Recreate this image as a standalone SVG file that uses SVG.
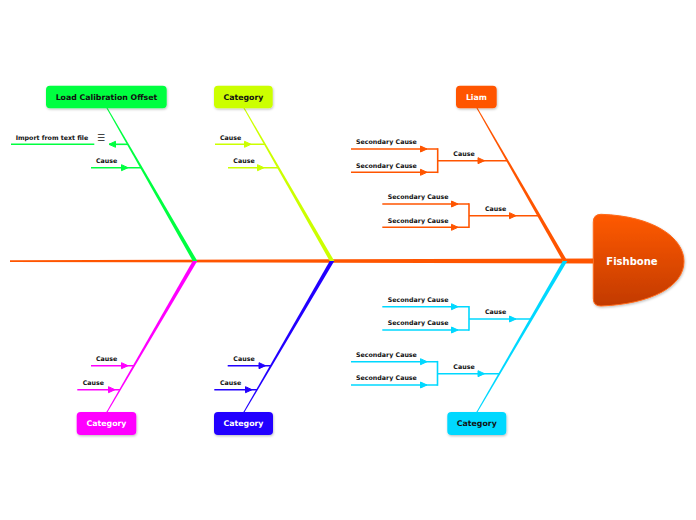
<svg xmlns="http://www.w3.org/2000/svg" xmlns:xlink="http://www.w3.org/1999/xlink" width="696" height="520" viewBox="0 0 696 520">
<style>
  .lbl { font-family: "DejaVu Sans", Verdana, sans-serif; font-weight: bold; font-size: 6.3px; fill: #111; }
  .box { font-family: "DejaVu Sans", Verdana, sans-serif; font-weight: bold; font-size: 7.8px; text-anchor: middle; }
  .dk { fill: #111; }
  .wt { fill: #fff; }
  .ln { fill: none; stroke-width: 1.6; }
  .g { stroke: #00FF40; fill: #00FF40; }
  .y { stroke: #CCFF00; fill: #CCFF00; }
  .o { stroke: #FF5500; fill: #FF5500; }
  .m { stroke: #FF00FF; fill: #FF00FF; }
  .b { stroke: #2200FF; fill: #2200FF; }
  .c { stroke: #00D8FF; fill: #00D8FF; }
  .bone { stroke: none; }
</style>
<defs>
  <path id="ar" d="M-6.5,-3 L0,0 L-6.5,3 Z"/>
  <path id="al" d="M6.5,-3 L0,0 L6.5,3 Z"/>
  <linearGradient id="hg" x1="0" y1="0" x2="0" y2="1">
    <stop offset="0" stop-color="#FF5A05"/>
    <stop offset="1" stop-color="#C23A00"/>
  </linearGradient>
  <filter id="sh" x="-20%" y="-20%" width="140%" height="150%">
    <feDropShadow dx="0.6" dy="1.2" stdDeviation="0.9" flood-color="#000" flood-opacity="0.25"/>
  </filter>
</defs>

<g id="connectors">
  <!-- spine -->
  <polygon points="10,260.3 10,261.9 593,263.6 593,258.6" fill="#FF5500"/>
  <rect x="562" y="259.3" width="4" height="1.6" fill="#D4E000"/>

  <!-- bones -->
  <polygon class="g bone" points="106.4,108 107.6,108 197.3,261 192.7,261"/>
  <polygon class="y bone" points="243.4,108 244.6,108 334.3,261 329.7,261"/>
  <polygon class="o bone" points="476.4,108 477.6,108 567.3,261 562.7,261"/>
  <polygon class="m bone" points="106.4,412 107.6,412 197.3,261 192.7,261"/>
  <polygon class="b bone" points="243.4,412 244.6,412 334.3,261 329.7,261"/>
  <polygon class="c bone" points="476.4,412 477.6,412 567.3,261 562.7,261"/>

  <!-- green causes -->
  <g class="g">
    <line class="ln g" x1="11" y1="144.3" x2="94.3" y2="144.3"/>
    <line class="ln g" x1="109" y1="144.3" x2="128" y2="144.3"/>
    <use xlink:href="#al" x="109" y="144.3"/>
    <line class="ln g" x1="91" y1="167.7" x2="141.3" y2="167.7"/>
    <use xlink:href="#ar" x="128" y="167.7"/>
  </g>
  <!-- yellow causes -->
  <g class="y">
    <line class="ln y" x1="215" y1="144.3" x2="264.9" y2="144.3"/>
    <use xlink:href="#ar" x="251" y="144.3"/>
    <line class="ln y" x1="228" y1="167.7" x2="278.2" y2="167.7"/>
    <use xlink:href="#ar" x="264" y="167.7"/>
  </g>
  <!-- orange causes -->
  <g class="o">
    <line class="ln o" x1="351" y1="149" x2="437.7" y2="149"/>
    <line class="ln o" x1="351" y1="172.3" x2="437.7" y2="172.3"/>
    <line class="ln o" x1="437.7" y1="148.2" x2="437.7" y2="173.1"/>
    <line class="ln o" x1="437.7" y1="160.7" x2="507.3" y2="160.7"/>
    <use xlink:href="#ar" x="427" y="149"/>
    <use xlink:href="#ar" x="427" y="172.3"/>
    <use xlink:href="#ar" x="484.5" y="160.7"/>
    <line class="ln o" x1="382.3" y1="204" x2="469" y2="204"/>
    <line class="ln o" x1="382.3" y1="227.3" x2="469" y2="227.3"/>
    <line class="ln o" x1="469" y1="203.2" x2="469" y2="228.1"/>
    <line class="ln o" x1="469" y1="215.7" x2="538.5" y2="215.7"/>
    <use xlink:href="#ar" x="458" y="204"/>
    <use xlink:href="#ar" x="458" y="227.3"/>
    <use xlink:href="#ar" x="516" y="215.7"/>
  </g>
  <!-- cyan causes -->
  <g class="c">
    <line class="ln c" x1="382.3" y1="306.7" x2="469" y2="306.7"/>
    <line class="ln c" x1="382.3" y1="330" x2="469" y2="330"/>
    <line class="ln c" x1="469" y1="305.9" x2="469" y2="330.8"/>
    <line class="ln c" x1="469" y1="319" x2="531.2" y2="319"/>
    <use xlink:href="#ar" x="458" y="306.7"/>
    <use xlink:href="#ar" x="458" y="330"/>
    <use xlink:href="#ar" x="516" y="319"/>
    <line class="ln c" x1="351" y1="361.7" x2="437.5" y2="361.7"/>
    <line class="ln c" x1="351" y1="385" x2="437.5" y2="385"/>
    <line class="ln c" x1="437.5" y1="360.9" x2="437.5" y2="385.8"/>
    <line class="ln c" x1="437.5" y1="373.7" x2="499.3" y2="373.7"/>
    <use xlink:href="#ar" x="427" y="361.7"/>
    <use xlink:href="#ar" x="427" y="385"/>
    <use xlink:href="#ar" x="484.5" y="373.7"/>
  </g>
  <!-- magenta causes -->
  <g class="m">
    <line class="ln m" x1="91" y1="365.7" x2="134" y2="365.7"/>
    <use xlink:href="#ar" x="128" y="365.7"/>
    <line class="ln m" x1="77.3" y1="389.7" x2="120" y2="389.7"/>
    <use xlink:href="#ar" x="115" y="389.7"/>
  </g>
  <!-- blue causes -->
  <g class="b">
    <line class="ln b" x1="227.7" y1="365.7" x2="271" y2="365.7"/>
    <use xlink:href="#ar" x="265.5" y="365.7"/>
    <line class="ln b" x1="214.3" y1="389.7" x2="257" y2="389.7"/>
    <use xlink:href="#ar" x="252" y="389.7"/>
  </g>
</g>

<!-- cause labels -->
<g id="labels">
  <text class="lbl" x="15.7" y="140">Import from text file</text>
  <text x="97" y="141" font-family="DejaVu Sans, sans-serif" font-size="9" fill="#111">☰</text>
  <text class="lbl" x="96" y="163.2">Cause</text>
  <text class="lbl" x="220" y="140">Cause</text>
  <text class="lbl" x="233.3" y="163.2">Cause</text>
  <text class="lbl" x="356" y="144.4">Secondary Cause</text>
  <text class="lbl" x="356" y="167.7">Secondary Cause</text>
  <text class="lbl" x="453.3" y="156.1">Cause</text>
  <text class="lbl" x="387.7" y="199.4">Secondary Cause</text>
  <text class="lbl" x="387.7" y="222.7">Secondary Cause</text>
  <text class="lbl" x="485" y="211.1">Cause</text>
  <text class="lbl" x="387.7" y="302.1">Secondary Cause</text>
  <text class="lbl" x="387.7" y="325.4">Secondary Cause</text>
  <text class="lbl" x="485" y="314.4">Cause</text>
  <text class="lbl" x="356" y="357.1">Secondary Cause</text>
  <text class="lbl" x="356" y="380.4">Secondary Cause</text>
  <text class="lbl" x="453.3" y="369.1">Cause</text>
  <text class="lbl" x="96" y="361.1">Cause</text>
  <text class="lbl" x="82.7" y="385.1">Cause</text>
  <text class="lbl" x="233.3" y="361.1">Cause</text>
  <text class="lbl" x="220" y="385.1">Cause</text>
</g>

<g id="node-load">
  <rect x="46" y="85.7" width="120.7" height="22.6" rx="4" fill="#00FF40" filter="url(#sh)"/>
  <text class="box dk" x="106.4" y="99.8">Load Calibration Offset</text>
</g>
<g id="node-cat-top">
  <rect x="214" y="85.7" width="58.7" height="22.6" rx="4" fill="#CCFF00" filter="url(#sh)"/>
  <text class="box dk" x="243.4" y="99.8">Category</text>
</g>
<g id="node-liam">
  <rect x="456" y="85.7" width="40.7" height="22.6" rx="4" fill="#FF5500" filter="url(#sh)"/>
  <text class="box wt" x="476.4" y="99.8">Liam</text>
</g>
<g id="node-cat-magenta">
  <rect x="76.7" y="412" width="59.6" height="23" rx="4" fill="#FF00FF" filter="url(#sh)"/>
  <text class="box wt" x="106.5" y="426.3">Category</text>
</g>
<g id="node-cat-blue">
  <rect x="214" y="412" width="59" height="23" rx="4" fill="#2200FF" filter="url(#sh)"/>
  <text class="box wt" x="243.5" y="426.3">Category</text>
</g>
<g id="node-cat-cyan">
  <rect x="447.3" y="412" width="59" height="23" rx="4" fill="#00D8FF" filter="url(#sh)"/>
  <text class="box dk" x="476.8" y="426.3">Category</text>
</g>
<g id="node-fishbone">
  <path d="M601,214.3 Q593.3,214.3 593.3,222 L593.3,298.5 Q593.3,306.2 601,306 C652,304 684,286 684,261.5 C684,238 654,216 601,214.3 Z" fill="url(#hg)" stroke="#FF6A1A" stroke-width="1" filter="url(#sh)"/>
  <text x="632" y="264.8" font-family="DejaVu Sans, Verdana, sans-serif" font-weight="bold" font-size="10" fill="#fff" text-anchor="middle">Fishbone</text>
</g>
</svg>
